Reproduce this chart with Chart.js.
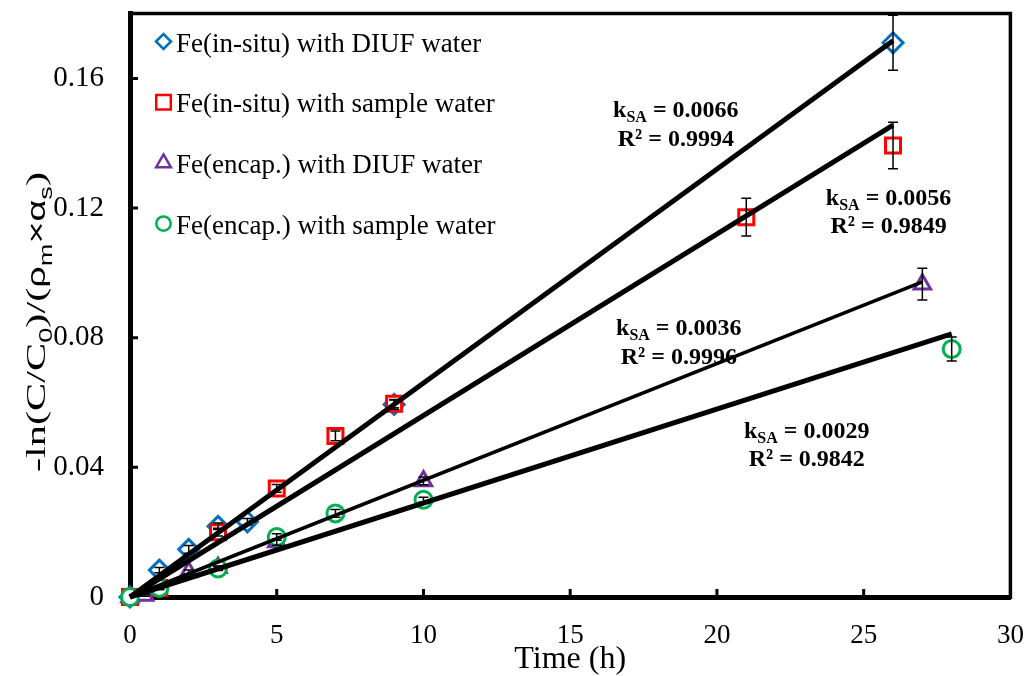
<!DOCTYPE html>
<html>
<head>
<meta charset="utf-8">
<title>Fe removal kinetics</title>
<script src="https://cdn.jsdelivr.net/npm/chart.js@4.4.1/dist/chart.umd.min.js"></script>
<style>
  body { margin: 0; background: #fff; }
  canvas { display: block; }
</style>
</head>
<body>
<canvas id="kinetics-chart" width="1024" height="676"></canvas>
<script>
// Legend names for the four runs
const seriesNames = [
  'Fe(in-situ) with DIUF water',
  'Fe(in-situ) with sample water',
  'Fe(encap.) with DIUF water',
  'Fe(encap.) with sample water'
];

// Sampling times (h), measured -ln(C/C0)/(rho_m x alpha_s) and error bars
const timeInsituDiuf = [0, 1, 2, 3, 4, 9, 26];
const valInsituDiuf  = [0, 0.0083, 0.0147, 0.0218, 0.0232, 0.0594, 0.1710];
const errInsituDiuf  = [0, 0.0008, 0.0012, 0.0010, 0.0010, 0.0015, 0.0085];

const timeInsituSample = [0, 1, 3, 5, 7, 9, 21, 26];
const valInsituSample  = [0, 0.0028, 0.0200, 0.0335, 0.0497, 0.0596, 0.1172, 0.1393];
const errInsituSample  = [0, 0.0005, 0.0012, 0.0012, 0.0015, 0.0012, 0.0058, 0.0072];

const timeEncapDiuf = [0, 0.5, 2, 3, 5, 10, 27];
const valEncapDiuf  = [0, 0.0005, 0.0077, 0.0090, 0.0170, 0.0358, 0.0965];
const errEncapDiuf  = [0, 0.0003, 0.0006, 0.0006, 0.0010, 0.0012, 0.0049];

const timeEncapSample = [0, 1, 3, 5, 7, 10, 28];
const valEncapSample  = [0, 0.0028, 0.0088, 0.0185, 0.0258, 0.0300, 0.0765];
const errEncapSample  = [0, 0.0005, 0.0006, 0.0010, 0.0012, 0.0008, 0.0037];

// Linear fits through the origin: rate constant k_SA and R^2
const kSA = [0.0066, 0.0056, 0.0036, 0.0029];
const rSquared = [0.9994, 0.9849, 0.9996, 0.9842];

// Axis ticks
const xTicks = [0, 5, 10, 15, 20, 25, 30];
const yTicks = [0, 0.04, 0.08, 0.12, 0.16];

// where each k_SA / R^2 block sits (data units, baseline of the k line)
const fitLabelAt = [[18.6, 0.148], [25.85, 0.121], [18.7, 0.0807], [23.06, 0.0491]];
const fitLineWidth = [5, 5, 3.5, 5];

const SERIF = '"Liberation Serif", "Times New Roman", serif';

const series = [
  { name: seriesNames[0], time: timeInsituDiuf,   val: valInsituDiuf,   err: errInsituDiuf,   color: '#0070C0', style: 'rectRot',  radius: 10,   legendRadius: 7.5 },
  { name: seriesNames[1], time: timeInsituSample, val: valInsituSample, err: errInsituSample, color: '#FF0000', style: 'rect',     radius: 10.6, legendRadius: 10.3 },
  { name: seriesNames[2], time: timeEncapDiuf,    val: valEncapDiuf,    err: errEncapDiuf,    color: '#7030A0', style: 'triangle', radius: 9.5,  legendRadius: 8.5 },
  { name: seriesNames[3], time: timeEncapSample,  val: valEncapSample,  err: errEncapSample,  color: '#00B050', style: 'circle',   radius: 8.5,  legendRadius: 7.2 }
];

// black fit lines, drawn on top (order 0)
const fitDatasets = series.map((s, i) => {
  const tEnd = s.time[s.time.length - 1];
  return {
    label: 'fit ' + s.name,
    data: [{ x: 0, y: 0 }, { x: tEnd, y: kSA[i] * tEnd }],
    showLine: true,
    borderColor: '#000',
    borderWidth: fitLineWidth[i],
    pointRadius: 0,
    order: 0,
    clip: false
  };
});

// markers; green ends up on top, blue at the bottom
const pointDatasets = series.map((s, i) => ({
  label: s.name,
  data: s.time.map((t, j) => ({ x: t, y: s.val[j] })),
  showLine: false,
  pointStyle: s.style,
  pointRadius: s.radius,
  pointBorderWidth: 3,
  pointBorderColor: s.color,
  pointBackgroundColor: '#fff',
  order: series.length - i,
  clip: false
}));

const errorBars = {
  id: 'errorBars',
  afterDatasetsDraw(chart) {
    const { ctx, scales: { x, y } } = chart;
    ctx.save();
    ctx.strokeStyle = '#000';
    ctx.lineWidth = 1.5;
    series.forEach(s => {
      s.time.forEach((t, j) => {
        const e = s.err[j];
        if (!e) return;
        const px = x.getPixelForValue(t);
        const hi = y.getPixelForValue(s.val[j] + e);
        const lo = y.getPixelForValue(s.val[j] - e);
        ctx.beginPath();
        ctx.moveTo(px, hi); ctx.lineTo(px, lo);
        ctx.moveTo(px - 5, hi); ctx.lineTo(px + 5, hi);
        ctx.moveTo(px - 5, lo); ctx.lineTo(px + 5, lo);
        ctx.stroke();
      });
    });
    ctx.restore();
  }
};

const fitLabels = {
  id: 'fitLabels',
  afterDatasetsDraw(chart) {
    const { ctx, scales: { x, y } } = chart;
    ctx.save();
    ctx.fillStyle = '#000';
    ctx.textBaseline = 'alphabetic';
    const big = 'bold 24px ' + SERIF;
    const small = 'bold 16px ' + SERIF;
    kSA.forEach((k, i) => {
      const cx = x.getPixelForValue(fitLabelAt[i][0]);
      const by = y.getPixelForValue(fitLabelAt[i][1]);
      const tail = ' = ' + k.toFixed(4);
      ctx.font = big;
      const w1 = ctx.measureText('k').width;
      const w3 = ctx.measureText(tail).width;
      ctx.font = small;
      const w2 = ctx.measureText('SA').width;
      const left = cx - (w1 + w2 + w3) / 2;
      ctx.textAlign = 'left';
      ctx.font = big;
      ctx.fillText('k', left, by);
      ctx.font = small;
      ctx.fillText('SA', left + w1, by + 5);
      ctx.font = big;
      ctx.fillText(tail, left + w1 + w2, by);
      ctx.textAlign = 'center';
      ctx.fillText('R\u00B2 = ' + rSquared[i].toFixed(4), cx, by + 28.5);
    });
    ctx.restore();
  }
};

// frame, inward tick marks, legend and the y-axis title
const frameAndLegend = {
  id: 'frameAndLegend',
  afterDraw(chart) {
    const { ctx, chartArea: a, scales: { x, y } } = chart;
    ctx.save();
    ctx.strokeStyle = '#000';
    ctx.lineWidth = 3.5;
    ctx.beginPath();
    ctx.moveTo(a.left, a.top);
    ctx.lineTo(a.right, a.top);
    ctx.lineTo(a.right, a.bottom + 2);
    ctx.stroke();

    ctx.lineWidth = 3;
    ctx.beginPath();
    xTicks.slice(1, -1).forEach(v => {
      const px = x.getPixelForValue(v);
      ctx.moveTo(px, a.bottom); ctx.lineTo(px, a.bottom - 8);
    });
    yTicks.slice(1).forEach(v => {
      const py = y.getPixelForValue(v);
      ctx.moveTo(a.left, py); ctx.lineTo(a.left + 8, py);
    });
    ctx.stroke();

    // legend
    series.forEach((s, i) => {
      const ly = 41.5 + i * 60.7;
      ctx.fillStyle = '#fff';
      ctx.strokeStyle = s.color;
      ctx.lineWidth = 2.5;
      Chart.helpers.drawPoint(ctx, { pointStyle: s.style, radius: s.legendRadius, borderWidth: 2.5 }, 163.5, ly);
      ctx.fillStyle = '#000';
      ctx.font = '27px ' + SERIF;
      ctx.textAlign = 'left';
      ctx.textBaseline = 'alphabetic';
      ctx.fillText(s.name, 176, ly + 10);
    });

    // y title: -ln(C/C0)/(rho_m x alpha_s)
    const parts = [
      ['-ln(C/C', 'main'], ['0', 'sub'], [')/(', 'main'], ['\u03C1', 'greek'], ['m', 'sub'],
      ['\u00D7\u03B1', 'greek'], ['s', 'sub'], [')', 'main']
    ];
    const fonts = {
      main: '28px ' + SERIF,
      greek: '25px "Liberation Sans", Arial, sans-serif',
      sub: '18px "Liberation Sans", Arial, sans-serif'
    };
    let total = 0;
    const widths = parts.map(([t, f]) => { ctx.font = fonts[f]; const w = ctx.measureText(t).width; total += w; return w; });
    const stretch = 300 / total;
    ctx.translate(45, 322);
    ctx.rotate(-Math.PI / 2);
    ctx.scale(stretch, 1);
    ctx.fillStyle = '#000';
    ctx.textAlign = 'left';
    let pos = -total / 2;
    parts.forEach(([t, f], i) => {
      ctx.font = fonts[f];
      ctx.fillText(t, pos, f === 'sub' ? 7 : 0);
      pos += widths[i];
    });
    ctx.restore();
  }
};

new Chart(document.getElementById('kinetics-chart').getContext('2d'), {
  type: 'scatter',
  data: { datasets: [...fitDatasets, ...pointDatasets] },
  options: {
    responsive: false,
    animation: false,
    events: [],
    layout: { padding: { left: 0, top: 11, right: 12, bottom: 0 } },
    plugins: { legend: { display: false }, tooltip: { enabled: false } },
    scales: {
      x: {
        type: 'linear',
        min: 0,
        max: 30,
        afterBuildTicks(scale) { scale.ticks = xTicks.map(v => ({ value: v })); },
        afterFit(scale) { scale.height = 79; scale.paddingLeft = 0; scale.paddingRight = 0; },
        grid: { display: false },
        border: { display: true, color: '#000', width: 5 },
        ticks: { color: '#000', font: { family: SERIF, size: 27 }, padding: 15, maxRotation: 0, autoSkip: false },
        title: { display: true, text: 'Time (h)', color: '#000', font: { family: SERIF, size: 32, lineHeight: 1 }, padding: { top: 0, bottom: 0 } }
      },
      y: {
        type: 'linear',
        min: 0,
        max: 0.18,
        afterBuildTicks(scale) { scale.ticks = yTicks.map(v => ({ value: v })); },
        afterFit(scale) { scale.width = 130; scale.paddingTop = 0; scale.paddingBottom = 0; },
        grid: { display: false },
        border: { display: true, color: '#000', width: 5 },
        ticks: {
          color: '#000',
          font: { family: SERIF, size: 29 },
          padding: 18,
          callback: v => (v === 0 ? '0' : v.toFixed(2))
        }
      }
    }
  },
  plugins: [errorBars, fitLabels, frameAndLegend]
});
</script>
</body>
</html>
